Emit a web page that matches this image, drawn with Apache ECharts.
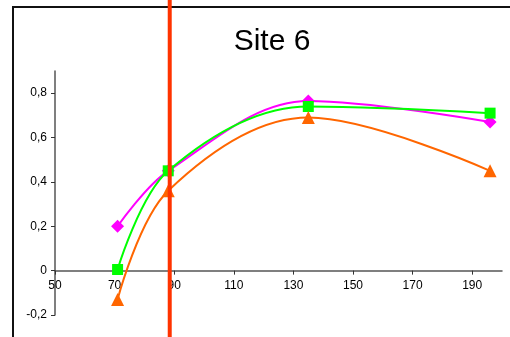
<!DOCTYPE html>
<html><head><meta charset="utf-8">
<script src="https://cdn.jsdelivr.net/npm/echarts@6/dist/echarts.min.js"></script>
<style>html,body{margin:0;padding:0;background:#fff}#c{width:510px;height:337px}</style>
</head><body><div id="c"></div>
<script>
var title = 'Site 6';
var xValues = [71, 88, 135, 196];
var magentaValues = [0.20, 0.45, 0.765, 0.67];
var greenValues = [0.005, 0.45, 0.74, 0.71];
var orangeValues = [-0.13, 0.36, 0.69, 0.45];
var xTicks = [50, 70, 90, 110, 130, 150, 170, 190];
var yTicks = [-0.2, 0, 0.2, 0.4, 0.6, 0.8];
var refLineX = [88.5];
var yMin = -0.2, yMax = 0.9;

function pairs(ys){ return xValues.map(function(x,i){return [x, ys[i]];}); }
var chart = echarts.init(document.getElementById('c'), null, {renderer:'canvas'});
var font = 'Liberation Sans, Arial, sans-serif';
var gridTop = 71, gridBottom = 22, H = 337;
var plotH = H - gridTop - gridBottom;
var zeroOffset = -plotH * (0 - yMin) / (yMax - yMin);
chart.setOption({
  animation: false,
  backgroundColor: '#fff',
  title: {text: title, left: 267, top: 22, textAlign: 'center',
    textStyle: {fontFamily: font, fontSize: 30, fontWeight: 'normal', color: '#000'}},
  graphic: [{type: 'rect', shape: {x: 13, y: 7, width: 600, height: 400},
    style: {fill: 'none', stroke: '#111', lineWidth: 2}, z: 0}],
  grid: {left: 55, right: 8, top: gridTop, bottom: gridBottom, containLabel: false},
  xAxis: {type: 'value', min: 50, max: 200, offset: zeroOffset,
    axisLine: {onZero: false, lineStyle: {color: '#555', width: 1.5}},
    axisTick: {customValues: xTicks, inside: false, length: 4, lineStyle: {color: '#333'}},
    axisLabel: {customValues: xTicks, margin: 9, color: '#000', fontFamily: font, fontSize: 12},
    splitLine: {show: false}},
  yAxis: {type: 'value', min: yMin, max: yMax,
    axisLine: {show: true, onZero: false, lineStyle: {color: '#555', width: 1.5}},
    axisTick: {show: true, customValues: yTicks, length: 4, lineStyle: {color: '#333'}},
    axisLabel: {customValues: yTicks, margin: 8, color: '#000', fontFamily: font, fontSize: 12,
      formatter: function(v){ return (Math.round(v*10)/10).toString().replace('.', ','); }},
    splitLine: {show: false}},
  series: [
    {type: 'line', data: pairs(magentaValues), smooth: 0.35, symbol: 'diamond', symbolSize: 13,
      itemStyle: {color: '#FF00FF'}, lineStyle: {color: '#FF00FF', width: 2}, z: 3},
    {type: 'line', data: pairs(greenValues), smooth: 0.35, symbol: 'rect', symbolSize: 11,
      itemStyle: {color: '#00FF00'}, lineStyle: {color: '#00FF00', width: 2}, z: 4},
    {type: 'line', data: pairs(orangeValues), smooth: 0.35, symbol: 'triangle', symbolSize: 13,
      itemStyle: {color: '#FF6600'}, lineStyle: {color: '#FF6600', width: 2}, z: 5},
    {type: 'custom', data: refLineX.map(function(v){return [v, 0];}), clip: false, z: 10,
      renderItem: function(params, api){
        var x = api.coord([api.value(0), 0])[0];
        return {type: 'line', shape: {x1: x, y1: 0, x2: x, y2: api.getHeight()},
          style: {stroke: '#FF3300', lineWidth: 4}};
      }}
  ]
});
</script></body></html>
